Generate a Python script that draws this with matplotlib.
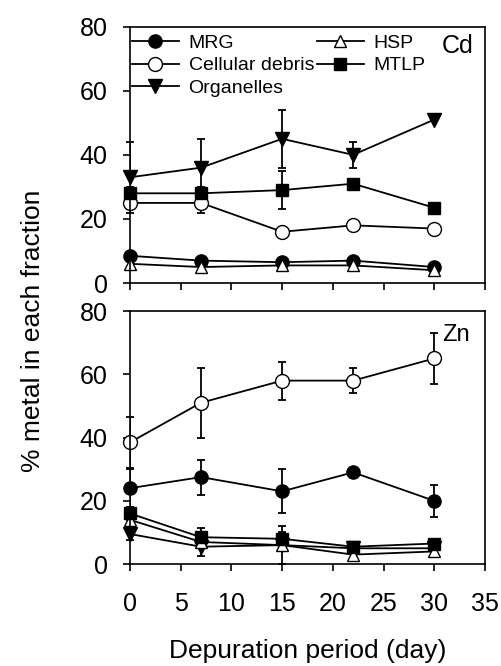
import numpy as np
import matplotlib
matplotlib.use("Agg")
import matplotlib.pyplot as plt

plt.rcParams['font.family'] = ['Liberation Sans', 'DejaVu Sans']

days = [0, 7, 15, 22, 30]
series = ["MRG", "Cellular debris", "Organelles", "HSP", "MTLP"]

# Cd
cd_mean = {
    "MRG": [8.5, 7.0, 6.5, 7.0, 5.0],
    "Cellular debris": [25, 25, 16, 18, 17],
    "Organelles": [33, 36, 45, 40, 51],
    "HSP": [6, 5, 5.5, 5.5, 4],
    "MTLP": [28, 28, 29, 31, 23.5],
}
cd_err = {
    "MRG": [1, 1, 1, 1, 1],
    "Cellular debris": [2, 3, 1, 1, 1],
    "Organelles": [11, 9, 9, 4, 0],
    "HSP": [1, 1, 1, 1, 1],
    "MTLP": [2, 2, 6, 1, 1],
}
# Zn
zn_mean = {
    "MRG": [24, 27.5, 23, 29, 20],
    "Cellular debris": [38.5, 51, 58, 58, 65],
    "Organelles": [9.5, 5.5, 6, 5, 5],
    "HSP": [14, 7, 6, 3, 4],
    "MTLP": [16, 8.5, 8, 5.5, 6.5],
}
zn_err = {
    "MRG": [6, 5.5, 7, 1, 5],
    "Cellular debris": [8, 11, 6, 4, 8],
    "Organelles": [2, 3, 6, 1, 1],
    "HSP": [2, 2, 2, 1, 1],
    "MTLP": [2, 3, 2, 1, 1],
}

styles = {
    "MRG": dict(marker="o", mfc="black", ms=9.5),
    "Cellular debris": dict(marker="o", mfc="white", ms=10),
    "Organelles": dict(marker="v", mfc="black", ms=10),
    "HSP": dict(marker="^", mfc="white", ms=9),
    "MTLP": dict(marker="s", mfc="black", ms=8.5),
}

fig = plt.figure(figsize=(5.02, 6.66), dpi=100)
ax1 = fig.add_axes([0.259, 0.575, 0.707, 0.385])
ax2 = fig.add_axes([0.259, 0.153, 0.707, 0.380])

for ax, mean, err in [(ax1, cd_mean, cd_err), (ax2, zn_mean, zn_err)]:
    for s in series:
        ax.errorbar(days, mean[s], yerr=err[s], color="black", mec="black",
                    lw=1.3, elinewidth=1.3, capsize=3, capthick=1.3,
                    label=s, **styles[s])
    ax.set_xlim(0, 35)
    ax.set_ylim(0, 80)
    ax.set_xticks(range(0, 36, 5))
    ax.set_yticks(range(0, 81, 20))
    ax.tick_params(direction="out", length=5, width=1.2, labelsize=18)
    ax.tick_params(axis="x", pad=15)
    ax.tick_params(axis="y", pad=11)
    for sp in ax.spines.values():
        sp.set_linewidth(1.2)
    for ln in ax.lines:
        ln.set_clip_on(False)

ax1.set_xticklabels([])
ax1.text(33.9, 74, "Cd", ha="right", va="center", fontsize=18)
ax2.text(30.8, 72.5, "Zn", ha="left", va="center", fontsize=17)

h, l = ax1.get_legend_handles_labels()
h = [c[0] for c in h]
ax1.legend(h, l, ncol=2, loc="upper left",
           frameon=False, fontsize=14, handlelength=2.4, columnspacing=0.15,
           handletextpad=0.5, labelspacing=0.25, borderaxespad=0.0,
           borderpad=0.2, bbox_to_anchor=(-0.005, 0.985))

fig.text(0.613, 0.012, "Depuration period (day)", ha="center", va="baseline", fontsize=19)
fig.text(0.066, 0.503, "% metal in each fraction", rotation=90, ha="center", va="center", fontsize=19)

fig.savefig("out.png", dpi=100)
